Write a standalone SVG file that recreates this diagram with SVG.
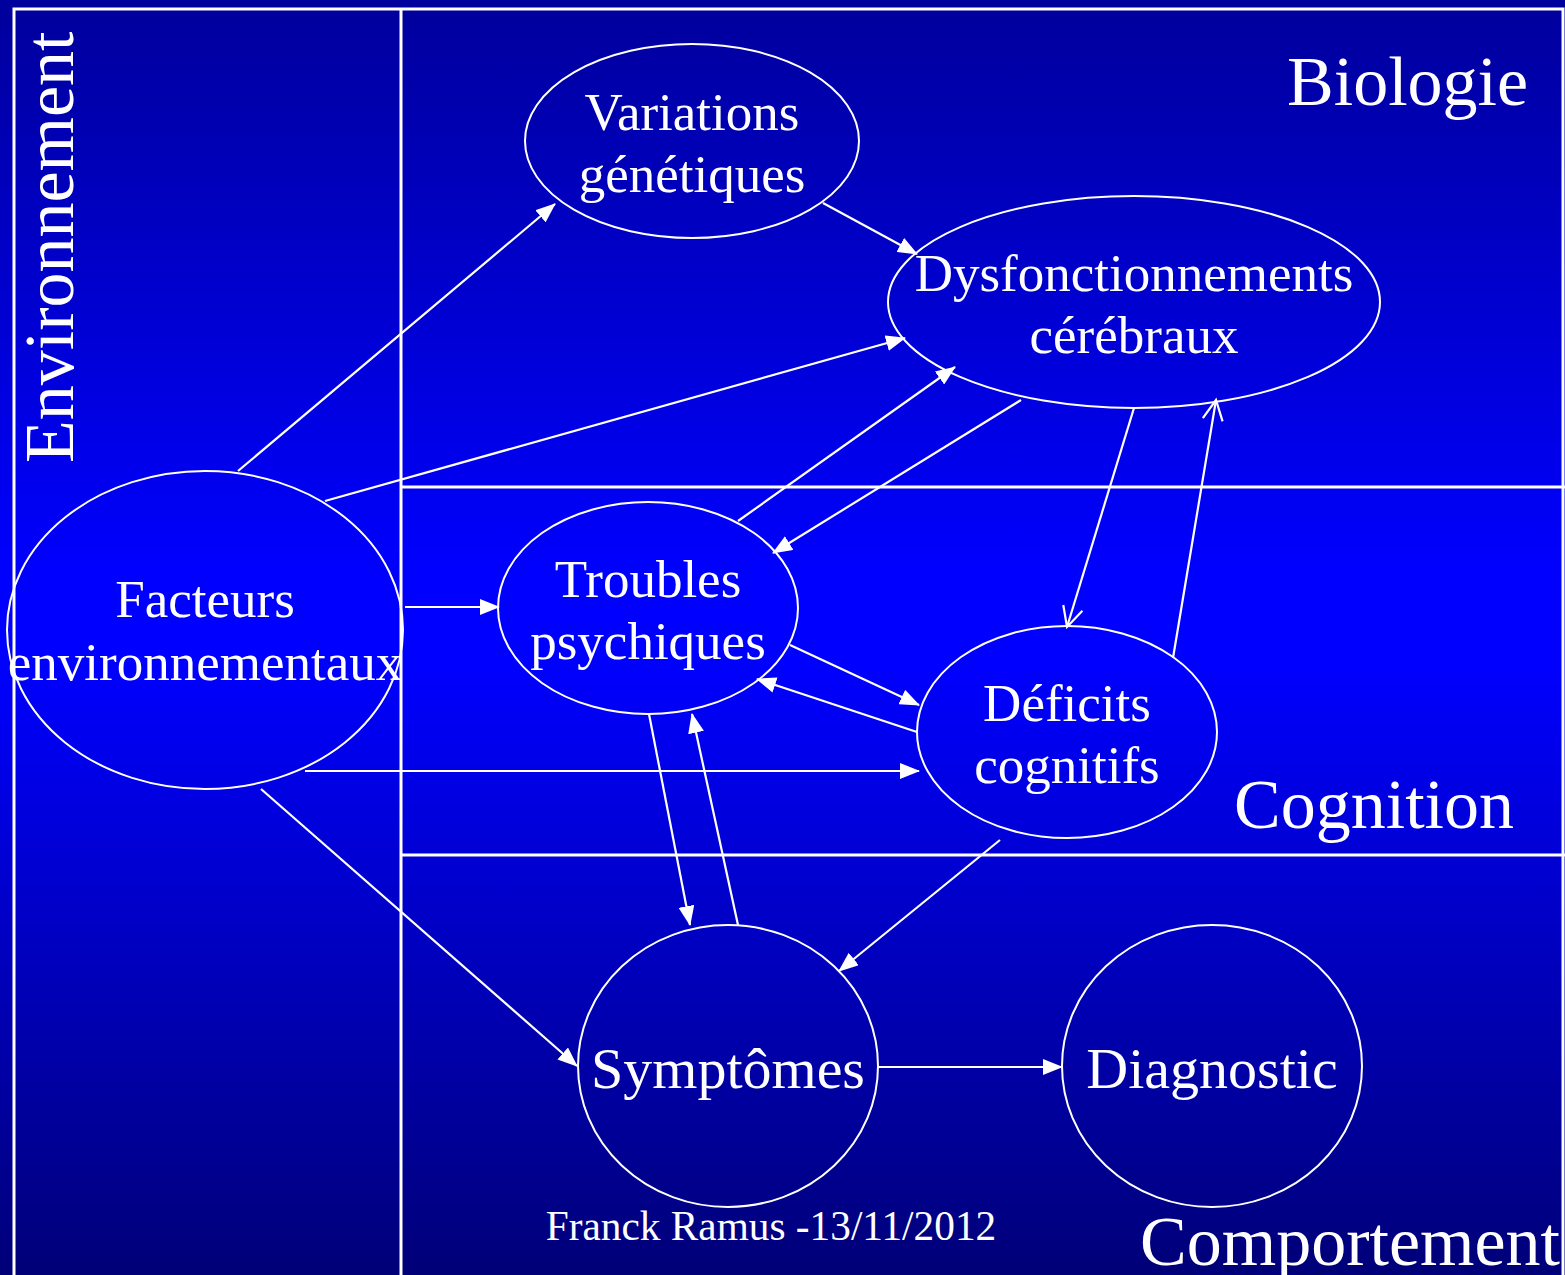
<svg xmlns="http://www.w3.org/2000/svg" width="1565" height="1275" viewBox="0 0 1565 1275">
<style>
.node{fill:none;stroke:#fff;stroke-width:2}
.t{font-family:"Liberation Serif","Times New Roman",serif;fill:#fff;text-anchor:middle;font-size:53px}
.t1{font-family:"Liberation Serif","Times New Roman",serif;fill:#fff;text-anchor:middle;font-size:58px}
.big{font-family:"Liberation Serif","Times New Roman",serif;fill:#fff;font-size:70px}
.frame{stroke:#fff;stroke-width:3;fill:none}
.c{stroke:#fff;stroke-width:2.2;fill:none}
.a{marker-end:url(#tri)}
.o{marker-end:url(#vee)}
</style>
<defs>
<linearGradient id="bg" x1="0" y1="0" x2="0" y2="1">
<stop offset="0" stop-color="#00009C"/>
<stop offset="0.45" stop-color="#0000FF"/>
<stop offset="0.52" stop-color="#0000FF"/>
<stop offset="1" stop-color="#000078"/>
</linearGradient>
<marker id="tri" markerUnits="userSpaceOnUse" markerWidth="20" markerHeight="16" refX="19" refY="8" orient="auto">
<path d="M0,0 L20,8 L0,16 Z" fill="#fff"/>
</marker>
<marker id="vee" markerUnits="userSpaceOnUse" markerWidth="24" markerHeight="24" refX="21" refY="12" orient="auto">
<path d="M1,2 L21,12 L1,22" fill="none" stroke="#fff" stroke-width="2.2"/>
</marker>
</defs>
<rect x="0" y="0" width="1565" height="1275" fill="url(#bg)"/>
<g id="frame">
<path class="frame" d="M14,1275 V9 H1563 V1275"/>
<line class="frame" x1="401" y1="9" x2="401" y2="1275"/>
<line class="frame" x1="401" y1="487" x2="1565" y2="487"/>
<line class="frame" x1="401" y1="855" x2="1565" y2="855"/>
</g>
<g id="labels">
<text class="big" x="1287" y="105">Biologie</text>
<text class="big" x="1234" y="828">Cognition</text>
<text class="big" x="1140" y="1265">Comportement</text>
<text class="big" transform="translate(73,463) rotate(-90)">Environnement</text>
<text x="771" y="1240" style="font-family:'Liberation Serif','Times New Roman',serif;fill:#fff;text-anchor:middle;font-size:41.3px">Franck Ramus -13/11/2012</text>
</g>
<g id="connectors">
<line class="c a" x1="238" y1="471" x2="555" y2="204"/>
<line class="c a" x1="325" y1="501" x2="905" y2="338"/>
<line class="c a" x1="823" y1="203" x2="917" y2="254"/>
<line class="c a" x1="738" y1="521" x2="955" y2="367"/>
<line class="c a" x1="1021" y1="400" x2="773" y2="553"/>
<line class="c o" x1="1134" y1="408" x2="1067" y2="627"/>
<line class="c o" x1="1173" y1="658" x2="1216" y2="400"/>
<line class="c a" x1="405" y1="607" x2="499" y2="607"/>
<line class="c a" x1="790" y1="645" x2="919" y2="705"/>
<line class="c a" x1="917" y1="732" x2="757" y2="679"/>
<line class="c a" x1="305" y1="771" x2="919" y2="771"/>
<line class="c a" x1="649" y1="714" x2="690" y2="925"/>
<line class="c a" x1="738" y1="925" x2="692" y2="714"/>
<line class="c a" x1="1000" y1="840" x2="839" y2="971"/>
<line class="c a" x1="261" y1="789" x2="577" y2="1066"/>
<line class="c a" x1="878" y1="1067" x2="1062" y2="1067"/>
</g>
<g id="variations">
<ellipse class="node" cx="692" cy="141" rx="167" ry="97"/>
<text class="t" x="692" y="130">Variations</text>
<text class="t" x="692" y="192">génétiques</text>
</g>
<g id="dysfonctionnements">
<ellipse class="node" cx="1134" cy="302" rx="246" ry="106"/>
<text class="t" x="1134" y="291">Dysfonctionnements</text>
<text class="t" x="1134" y="353">cérébraux</text>
</g>
<g id="facteurs">
<ellipse class="node" cx="205" cy="630" rx="198" ry="159"/>
<text class="t" x="205" y="617">Facteurs</text>
<text class="t" x="205" y="680">environnementaux</text>
</g>
<g id="troubles">
<ellipse class="node" cx="648" cy="608" rx="150" ry="106"/>
<text class="t" x="648" y="597">Troubles</text>
<text class="t" x="648" y="659">psychiques</text>
</g>
<g id="deficits">
<ellipse class="node" cx="1067" cy="732" rx="150" ry="106"/>
<text class="t" x="1067" y="721">Déficits</text>
<text class="t" x="1067" y="783">cognitifs</text>
</g>
<g id="symptomes">
<ellipse class="node" cx="728" cy="1066" rx="150" ry="141"/>
<text class="t1" x="728" y="1088">Symptômes</text>
</g>
<g id="diagnostic">
<ellipse class="node" cx="1212" cy="1066" rx="150" ry="141"/>
<text class="t1" x="1212" y="1088">Diagnostic</text>
</g>
</svg>
